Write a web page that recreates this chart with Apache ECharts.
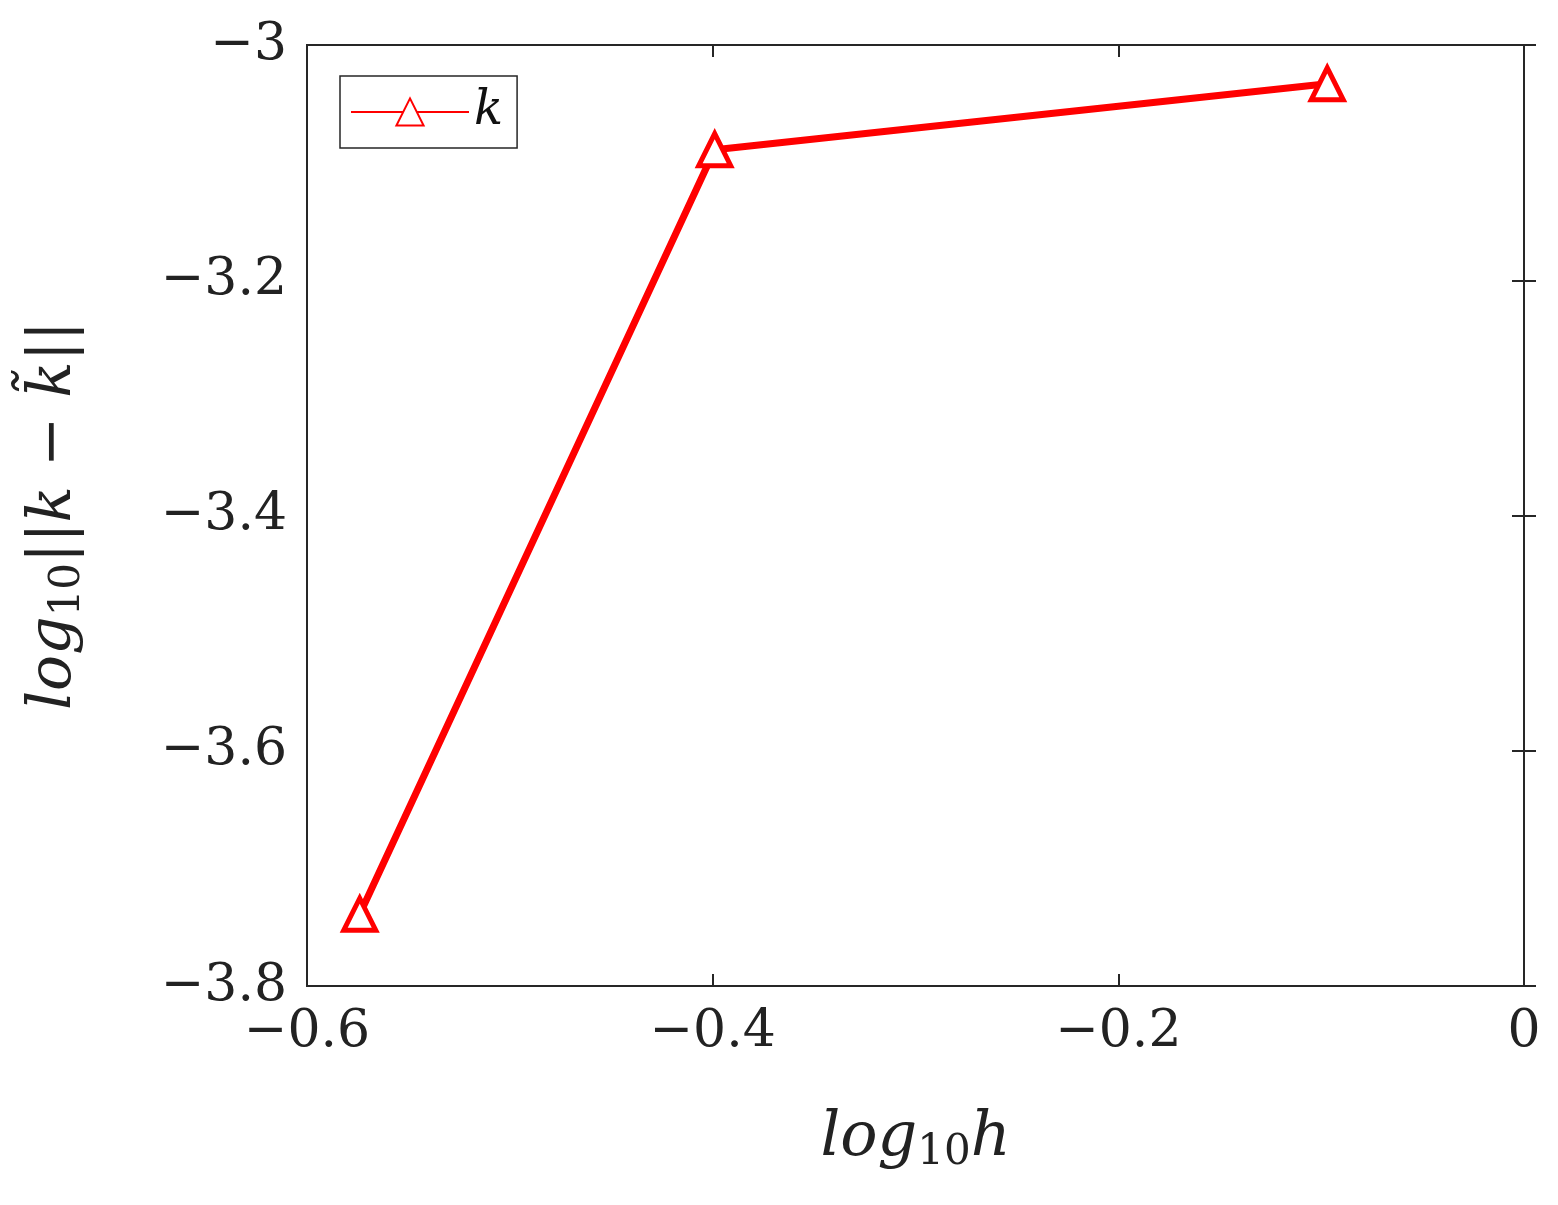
<!DOCTYPE html><html><head><meta charset="utf-8">
<script src="https://cdn.jsdelivr.net/npm/echarts@6/dist/echarts.min.js"></script>
<style>html,body{margin:0;background:#fff}#c{width:1558px;height:1205px}</style></head><body><div id="c"></div>
<script>
const xValues=[-0.574,-0.399,-0.097];
const yValues=[-3.739,-3.089,-3.033];
const seriesName='k';
const chart=echarts.init(document.getElementById('c'));
const F='DejaVu Serif';
const fmt=v=>v===0?'0':(v<0?'\u2212':'')+Math.abs(v);
const tick={inside:true,length:12,lineStyle:{color:'#262626',width:2}};
const lbl={fontFamily:F,fontSize:52,color:'#222',margin:20,formatter:fmt};
chart.setOption({
animation:false,
grid:{left:307,right:34,top:45,bottom:219,show:true,borderColor:'#262626',borderWidth:2},
legend:{left:340,top:76,padding:[12,14,12,10],itemWidth:118,itemHeight:34,itemGap:0,
 borderColor:'#262626',borderWidth:1.5,backgroundColor:'#fff',
 textStyle:{fontFamily:F,fontStyle:'italic',fontSize:48,color:'#111'},
 data:[seriesName]},
xAxis:[{type:'value',min:-0.6,max:0,interval:0.2,
 name:'{a|log}{s|10}{a|h}',nameLocation:'middle',nameGap:118,
 nameTextStyle:{rich:{a:{fontFamily:F,fontStyle:'italic',fontSize:62,color:'#222'},s:{fontFamily:F,fontSize:42,color:'#222',padding:[28,0,0,0]}}},
 axisLine:{show:false},axisTick:tick,axisLabel:lbl,splitLine:{show:false}},
 {type:'value',min:-0.6,max:0,interval:0.2,position:'top',axisLine:{show:false},axisTick:tick,axisLabel:{show:false},splitLine:{show:false}}],
yAxis:[{type:'value',min:-3.8,max:-3,interval:0.2,
 name:'{a|log}{s|10}{a|||k \u2212 k\u0303||}',nameLocation:'middle',nameGap:218,nameRotate:90,
 nameTextStyle:{rich:{a:{fontFamily:F,fontStyle:'italic',fontSize:60,color:'#222'},s:{fontFamily:F,fontSize:42,color:'#222',padding:[28,0,0,0]}}},
 axisLine:{show:false},axisTick:tick,axisLabel:lbl,splitLine:{show:false}},
 {type:'value',min:-3.8,max:-3,interval:0.2,position:'right',axisLine:{show:false},axisTick:tick,axisLabel:{show:false},splitLine:{show:false}}],
series:[{name:seriesName,type:'line',data:xValues.map((x,i)=>[x,yValues[i]]),
 symbol:'triangle',symbolSize:32,showAllSymbol:true,
 lineStyle:{color:'#ff0000',width:7},
 itemStyle:{color:'#fff',borderColor:'#ff0000',borderWidth:5}}]
});
</script></body></html>
